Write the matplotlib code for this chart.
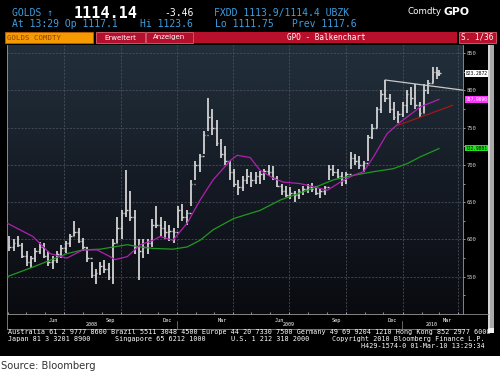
import numpy as np
import pandas as pd
import matplotlib
matplotlib.use("Agg")
import matplotlib.pyplot as plt
import matplotlib.dates as mdates
from matplotlib.colors import LinearSegmentedColormap
from matplotlib.patches import Rectangle
from matplotlib.lines import Line2D

# weekly high / low / close of gold (GPO)
weeks = list(pd.date_range("2008-04-04", periods=100, freq="W-FRI")) + [pd.Timestamp("2010-03-01")]
lows = [585, 585, 590, 575, 565, 562, 570, 580, 575, 565,
        560, 568, 575, 582, 590, 605, 595, 585, 570, 548,
        540, 552, 555, 545, 540, 595, 600, 630, 625, 580,
        545, 575, 580, 590, 615, 605, 600, 598, 595, 615,
        625, 620, 645, 680, 690, 715, 745, 740, 725, 710,
        700, 680, 670, 660, 665, 675, 670, 675, 675, 680,
        685, 680, 670, 660, 657, 655, 650, 655, 660, 662,
        664, 660, 656, 660, 680, 685, 682, 672, 675, 695,
        700, 695, 690, 705, 735, 750, 770, 785, 770, 760,
        756, 765, 770, 780, 775, 765, 770, 795, 810, 815,
        819]
highs = [605, 600, 605, 595, 585, 578, 588, 597, 595, 585,
         578, 585, 592, 598, 608, 625, 615, 602, 590, 570,
         560, 570, 572, 568, 600, 630, 640, 693, 665, 640,
         600, 600, 600, 628, 645, 630, 625, 620, 615, 645,
         648, 640, 680, 705, 715, 745, 790, 775, 760, 735,
         725, 705, 695, 680, 685, 695, 690, 690, 692, 695,
         700, 698, 685, 675, 672, 670, 665, 668, 672, 675,
         676, 672, 668, 672, 700, 700, 695, 690, 690, 718,
         715, 712, 705, 740, 755, 778, 800, 814, 795, 785,
         772, 785, 800, 805, 809, 785, 809, 814, 832, 832,
         827]
closes = [590, 595, 592, 578, 570, 575, 585, 590, 578, 570,
          572, 580, 588, 595, 605, 610, 598, 590, 575, 552,
          555, 565, 560, 550, 595, 615, 635, 640, 630, 590,
          585, 590, 595, 620, 620, 615, 610, 612, 610, 640,
          630, 635, 675, 700, 712, 740, 765, 750, 730, 715,
          705, 690, 675, 670, 680, 685, 680, 685, 688, 692,
          690, 682, 672, 665, 660, 662, 660, 665, 668, 670,
          668, 662, 665, 670, 695, 690, 685, 680, 688, 710,
          705, 700, 702, 738, 750, 775, 795, 790, 775, 765,
          768, 780, 795, 790, 780, 770, 800, 810, 825, 822,
          823]

# moving averages
ma_short_dates = ["2008-03-31", "2008-05-12", "2008-06-09", "2008-07-06", "2008-08-01", "2008-08-24",
                  "2008-09-14", "2008-09-22", "2008-10-12", "2008-11-02", "2008-11-23", "2008-12-04",
                  "2008-12-25", "2009-01-17", "2009-02-07", "2009-02-28", "2009-03-28", "2009-04-08",
                  "2009-04-29", "2009-05-15", "2009-06-06", "2009-06-22", "2009-07-19", "2009-08-09",
                  "2009-09-01", "2009-09-22", "2009-10-13", "2009-10-30", "2009-11-15", "2009-12-07",
                  "2009-12-29", "2010-01-19", "2010-01-30", "2010-03-01"]
ma_short = [622, 604, 581, 575, 586, 586, 577, 573, 577, 593, 599, 604, 599, 622, 653, 680, 706, 713,
            710, 693, 682, 677, 675, 671, 666, 677, 686, 691, 711, 742, 758, 771, 778, 788]
ma_long_dates = ["2008-03-31", "2008-05-12", "2008-07-06", "2008-08-01", "2008-08-29", "2008-10-12",
                 "2008-11-02", "2008-11-23", "2008-12-25", "2009-01-17", "2009-02-07", "2009-02-28",
                 "2009-04-02", "2009-04-29", "2009-05-15", "2009-06-17", "2009-07-31", "2009-09-11",
                 "2009-10-13", "2009-11-15", "2009-12-17", "2010-01-09", "2010-01-30", "2010-03-01"]
ma_long = [550, 563, 581, 586, 587, 593, 590, 588, 587, 590, 599, 613,
           628, 635, 639, 653, 666, 680, 686, 691, 695, 702, 711, 722]
trend_dates = ["2009-12-04", "2010-04-08"]
trend_vals = [814, 800.5]
red_dates = ["2009-12-24", "2010-03-23"]
red_vals = [753, 780]

yticks = [550, 600, 650, 700, 750, 800, 850]
tags = [(823.3, "823.2872", "white", "black"),
        (787.9, "787.9890", "#ff33ff", "white"),
        (722.7, "722.9801", "#22e022", "black")]

W, H = 500, 371
fig = plt.figure(figsize=(5.0, 3.71), dpi=100)
fig.patch.set_facecolor("black")


def fx(x):
    return x / W


def fy(y):
    return 1 - y / H


mono = "DejaVu Sans Mono"
blue = "#3d9ee0"

# white strip at the bottom with the source note
fig.patches.append(Rectangle((0, 0), 1, fy(356), transform=fig.transFigure, fc="white", ec="none"))
fig.text(fx(1), fy(366), "Source: Bloomberg", fontsize=7.2, color="#333333", va="center", ha="left")

# header
fig.text(fx(12), fy(13), "GOLDS ↑", fontsize=7, color=blue, family=mono, va="center")
fig.text(fx(74), fy(13), "1114.14", fontsize=11, color="white", family=mono, weight="bold", va="center")
fig.text(fx(164), fy(13), "-3.46", fontsize=7, color="white", family=mono, va="center")
fig.text(fx(214), fy(13), "FXDD 1113.9/1114.4 UBZK", fontsize=7, color=blue, family=mono, va="center")
fig.text(fx(12), fy(24), "At 13:29 Op 1117.1", fontsize=7, color=blue, family=mono, va="center")
fig.text(fx(140), fy(24), "Hi 1123.6", fontsize=7, color=blue, family=mono, va="center")
fig.text(fx(215), fy(24), "Lo 1111.75", fontsize=7, color=blue, family=mono, va="center")
fig.text(fx(292), fy(24), "Prev 1117.6", fontsize=7, color=blue, family=mono, va="center")
fig.text(fx(407), fy(12), "Comdty", fontsize=6.3, color="white", va="center")
fig.text(fx(443), fy(12), "GPO", fontsize=7.8, color="white", weight="bold", va="center")


def box(x0, x1, y0, y1, fc, ec="none", lw=0.6):
    fig.patches.append(Rectangle((fx(x0), fy(y1)), fx(x1 - x0), (y1 - y0) / H,
                                 transform=fig.transFigure, fc=fc, ec=ec, lw=lw))


box(5, 93, 32, 43, "#f59a00", ec="#c06000")
fig.text(fx(7), fy(37.5), "GOLDS COMDTY", fontsize=5.3, color="#8a4000", family=mono, va="center")
box(96, 145, 32, 43, "#b3102e", ec="#e06070")
fig.text(fx(120.5), fy(37.5), "Erweitert", fontsize=5, color="white", ha="center", va="center")
box(146, 193, 32, 43, "#b3102e", ec="#e06070")
fig.text(fx(169.5), fy(37.5), "Anzeigen", fontsize=5, color="white", ha="center", va="center")
box(194, 457, 32, 43, "#b80f2a")
fig.text(fx(326), fy(37.5), "GPO - Balkenchart", fontsize=5.5, color="white", family=mono, ha="center", va="center")
box(459, 496, 32, 43, "#b80f2a", ec="#e06070")
fig.text(fx(477.5), fy(37.5), "S. 1/36", fontsize=5.5, color="white", family=mono, ha="center", va="center")

# scrollbar
box(488, 494, 45, 332, "#a9a9a9")
box(488, 490, 45, 332, "#d6d6d6")
box(488, 494, 328, 333, "#f0f0f0")

# main chart
ax = fig.add_axes([fx(7), fy(314), (463 - 7) / W, (314 - 45) / H])
cmap = LinearSegmentedColormap.from_list("bg", ["#22303b", "#1c2631", "#151b25", "#10131b", "#0a0b10"])
grad = np.linspace(0, 1, 256).reshape(-1, 1)
ax.imshow(grad, extent=[0, 1, 0, 1], transform=ax.transAxes, aspect="auto", cmap=cmap, zorder=0)

# bar chart: high-low line, open tick left, close tick right
xd = mdates.date2num(weeks)
opens = [closes[0]] + closes[:-1]
ax.vlines(xd, lows, highs, color="#d2d2d2", lw=1.3, zorder=3)
ax.hlines(opens, xd - 2.6, xd, color="#d2d2d2", lw=1.0, zorder=3)
ax.hlines(closes, xd, xd + 2.6, color="#d2d2d2", lw=1.0, zorder=3)

ax.plot(mdates.date2num(pd.to_datetime(ma_long_dates)), ma_long, color="#1f9a1f", lw=0.9, zorder=4)
ax.plot(mdates.date2num(pd.to_datetime(ma_short_dates)), ma_short, color="#b020b0", lw=0.9, zorder=4)
ax.plot(mdates.date2num(pd.to_datetime(red_dates)), red_vals, color="#a01818", lw=0.9, zorder=4)
ax.plot(mdates.date2num(pd.to_datetime(trend_dates)), trend_vals, color="#c8c8c8", lw=0.9, zorder=4)

ax.set_xlim(mdates.date2num(pd.Timestamp("2008-03-31")), mdates.date2num(pd.Timestamp("2010-04-09")))
ax.set_ylim(500, 861)

for v in yticks:
    ax.axhline(v, color="#4d5864", lw=0.5, ls=(0, (3, 2)), zorder=1)
for d in ["2008-07-01", "2008-10-01", "2009-01-01", "2009-04-01", "2009-07-01",
          "2009-10-01", "2010-01-01", "2010-04-01"]:
    ax.axvline(mdates.date2num(pd.Timestamp(d)), color="#4d5864", lw=0.5, ls=(0, (3, 2)), zorder=1)

ax.yaxis.tick_right()
ax.set_yticks(yticks)
ax.set_yticks(np.arange(525, 861, 50), minor=True)
ax.tick_params(axis="y", which="both", colors="#cccccc", labelsize=4, length=1.5, width=0.5, pad=1)
for lab in ax.get_yticklabels():
    lab.set_family(mono)

months = pd.to_datetime(["2008-06-15", "2008-09-15", "2008-12-15", "2009-03-15",
                         "2009-06-15", "2009-09-15", "2009-12-15", "2010-03-15"])
month_labels = ["Jun", "Sep", "Dec", "Mar", "Jun", "Sep", "Dec", "Mar"]
ax.set_xticks(mdates.date2num(months))
ax.set_xticklabels(month_labels)
ax.xaxis.set_minor_locator(mdates.MonthLocator())
ax.tick_params(axis="x", which="major", length=0, colors="white", labelsize=3.8, pad=3)
ax.tick_params(axis="x", which="minor", length=1.5, width=0.5, colors="#cccccc", direction="in")
for lab in ax.get_xticklabels():
    lab.set_family(mono)

years = [("2008", "2008-08-15"), ("2009", "2009-07-01"), ("2010", "2010-02-18")]
for txt, d in years:
    ax.text(mdates.date2num(pd.Timestamp(d)), -0.04, txt, transform=ax.get_xaxis_transform(),
            fontsize=3.6, color="white", family=mono, ha="center", va="center")

ax.spines["top"].set_visible(False)
for s in ["left", "right", "bottom"]:
    ax.spines[s].set_color("#9a9a9a")
    ax.spines[s].set_linewidth(0.6)

for val, txt, fc, tc in tags:
    ax.text(1.006, val, txt, transform=ax.get_yaxis_transform(), fontsize=3.3, color=tc,
            family=mono, va="center", ha="left",
            bbox=dict(boxstyle="square,pad=0.2", fc=fc, ec="none"))

# frame below the axis
fig.lines.append(Line2D([fx(7), fx(7)], [fy(314), fy(329)], transform=fig.transFigure, color="#8a8a8a", lw=0.6))
fig.lines.append(Line2D([fx(7), fx(463)], [fy(329), fy(329)], transform=fig.transFigure, color="#8a8a8a", lw=0.6))
fig.lines.append(Line2D([fx(463), fx(488)], [fy(314), fy(314)], transform=fig.transFigure, color="#8a8a8a", lw=0.6))
for xs in [177, 402]:
    fig.lines.append(Line2D([fx(xs), fx(xs)], [fy(321), fy(329)], transform=fig.transFigure, color="#8a8a8a", lw=0.5))

# footer
fs = 4.85
fig.text(fx(8), fy(332), "Australia 61 2 9777 8600 Brazil 5511 3048 4500 Europe 44 20 7330 7500 "
         "Germany 49 69 9204 1210 Hong Kong 852 2977 6000", fontsize=fs, color="white", family=mono, va="center")
fig.text(fx(8), fy(339), "Japan 81 3 3201 8900", fontsize=fs, color="white", family=mono, va="center")
fig.text(fx(115), fy(339), "Singapore 65 6212 1000", fontsize=fs, color="white", family=mono, va="center")
fig.text(fx(231), fy(339), "U.S. 1 212 318 2000", fontsize=fs, color="white", family=mono, va="center")
fig.text(fx(485), fy(339), "Copyright 2010 Bloomberg Finance L.P.", fontsize=fs, color="white", family=mono,
         va="center", ha="right")
fig.text(fx(485), fy(346), "H429-1574-0 01-Mar-10 13:29:34", fontsize=fs, color="white", family=mono,
         va="center", ha="right")

fig.savefig("out.png", dpi=100, facecolor=fig.get_facecolor())
